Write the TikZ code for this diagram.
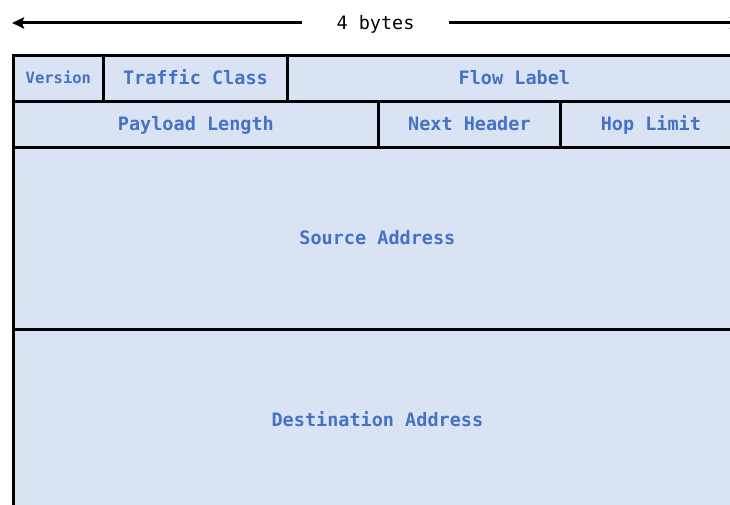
\documentclass[tikz,border=0pt]{standalone}
\usepackage{fontspec}
\setmonofont{DejaVu Sans Mono}
\usetikzlibrary{arrows.meta}
\definecolor{fieldfill}{HTML}{DAE3F3}
\definecolor{fieldtext}{HTML}{4472C4}
\tikzset{
  field/.style={draw=black, line width=2.8pt, fill=fieldfill, rectangle,
    inner sep=0pt, anchor=north west},
  lbl/.style={text=fieldtext, inner sep=0pt, text height=16pt, text depth=4pt,
    font=\ttfamily\bfseries\fontsize{18.5}{20}\selectfont},
  smalllbl/.style={lbl, text height=13.5pt, text depth=3.5pt,
    font=\ttfamily\bfseries\fontsize{15.5}{17}\selectfont},
  widtharrow/.style={line width=3pt, -{Stealth[length=12pt,width=11pt,inset=2pt]}},
}
% fw: name, left, top, right, bottom in pixel units (y grows downwards)
\newcommand{\fw}[5]{%
  \node[field, minimum width=#4-#2, minimum height=#5-#3] (#1) at (#2,#3) {};}
\begin{document}
\begin{tikzpicture}[x=1pt, y=-1pt]
  \useasboundingbox (0,0) rectangle (730,505);
  \clip (0,0) rectangle (730,505);

  % row 1
  \fw{version}{12}{54}{102}{100}
  \fw{traffic}{102}{54}{286}{100}
  \fw{flow}{286}{54}{740}{100}
  % row 2
  \fw{payload}{12}{100}{377}{146}
  \fw{nexthdr}{377}{100}{559}{146}
  \fw{hop}{559}{100}{740}{146}
  % addresses
  \fw{src}{12}{146}{740}{328}
  \fw{dst}{12}{328}{740}{510}

  % field labels
  \node[smalllbl] at (version.center) {Version};
  \node[lbl] at (traffic.center) {Traffic Class};
  \node[lbl] at (flow.center) {Flow Label};
  \node[lbl] at (payload.center) {Payload Length};
  \node[lbl] at (nexthdr.center) {Next Header};
  \node[lbl] at (hop.center) {Hop Limit};
  \node[lbl] at (src.center) {Source Address};
  \node[lbl] at (dst.center) {Destination Address};

  % width marker
  \node[inner sep=0pt, text height=16pt, text depth=4pt,
        font=\ttfamily\fontsize{18.5}{20}\selectfont] (bytes) at (375.5,24) {4 bytes};
  \coordinate (lend) at (12,23);
  \coordinate (rend) at (742,23);
  \draw[widtharrow, shorten <=34pt] (bytes.west |- lend) -- (lend);
  \draw[widtharrow, shorten <=34pt] (bytes.east |- rend) -- (rend);
\end{tikzpicture}
\end{document}
